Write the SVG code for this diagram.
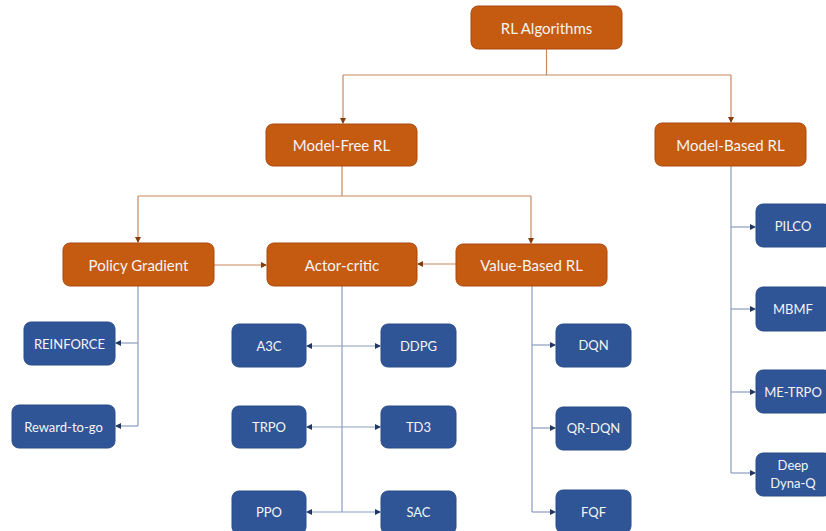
<svg xmlns="http://www.w3.org/2000/svg" width="826" height="531" viewBox="0 0 826 531">
<defs>
<marker id="ao" markerWidth="6" markerHeight="6" refX="5" refY="3" orient="auto" markerUnits="userSpaceOnUse"><path d="M0,0 L6,3 L0,6 Z" fill="#843C0C"/></marker>
<marker id="ab" markerWidth="6" markerHeight="6" refX="5" refY="3" orient="auto-start-reverse" markerUnits="userSpaceOnUse"><path d="M0,0 L6,3 L0,6 Z" fill="#203864"/></marker>
</defs>
<style>
.o rect{fill:#C55A11;stroke:#A9490C;stroke-width:1}
.b rect{fill:#2F5597;stroke:#2A4C88;stroke-width:1}
.o text{fill:#F4F4F4;font-family:Lato,"Open Sans",sans-serif;font-size:15px;text-anchor:middle;dominant-baseline:central}
.b text{fill:#F4F4F4;font-family:Lato,"Open Sans",sans-serif;font-size:13px;text-anchor:middle;dominant-baseline:central}
.co{fill:none;stroke:#C9885E;stroke-width:1.2}
.cb{fill:none;stroke:#8C9DC0;stroke-width:1.2}
</style>
<rect width="826" height="531" fill="#FFFFFF"/>
<g id="connectors">
<path class="co" d="M546.5,49 V75"/>
<path class="co" d="M343,75 H731"/>
<path class="co" d="M343,75 V123" marker-end="url(#ao)"/>
<path class="co" d="M731,75 V122" marker-end="url(#ao)"/>
<path class="co" d="M342,166 V196"/>
<path class="co" d="M138,196 H531"/>
<path class="co" d="M138,196 V242" marker-end="url(#ao)"/>
<path class="co" d="M531,196 V243" marker-end="url(#ao)"/>
<path class="co" d="M214,265 H266" marker-end="url(#ao)"/>
<path class="co" d="M456,264 H418" marker-end="url(#ao)"/>
<path class="cb" d="M138,286 V426"/>
<path class="cb" d="M138,343 H116" marker-end="url(#ab)"/>
<path class="cb" d="M138,426 H116" marker-end="url(#ab)"/>
<path class="cb" d="M342,286 V512"/>
<path class="cb" d="M307,346 H380" marker-start="url(#ab)" marker-end="url(#ab)"/>
<path class="cb" d="M307,427 H380" marker-start="url(#ab)" marker-end="url(#ab)"/>
<path class="cb" d="M307,512 H380" marker-start="url(#ab)" marker-end="url(#ab)"/>
<path class="cb" d="M532,286 V512"/>
<path class="cb" d="M532,345 H555" marker-end="url(#ab)"/>
<path class="cb" d="M532,428 H555" marker-end="url(#ab)"/>
<path class="cb" d="M532,512 H555" marker-end="url(#ab)"/>
<path class="cb" d="M731,166 V473"/>
<path class="cb" d="M731,227 H755" marker-end="url(#ab)"/>
<path class="cb" d="M731,309 H755" marker-end="url(#ab)"/>
<path class="cb" d="M731,392 H755" marker-end="url(#ab)"/>
<path class="cb" d="M731,473 H755" marker-end="url(#ab)"/>
</g>
<g id="rl-algorithms" class="o"><rect x="471" y="6" width="151" height="43" rx="7"/><text x="546.5" y="28">RL Algorithms</text></g>
<g id="model-free" class="o"><rect x="266" y="124" width="151" height="42" rx="7"/><text x="341.5" y="145">Model-Free RL</text></g>
<g id="model-based" class="o"><rect x="655" y="123" width="151" height="43" rx="7"/><text x="730.5" y="145">Model-Based RL</text></g>
<g id="policy-gradient" class="o"><rect x="63" y="243" width="151" height="43" rx="7"/><text x="138.5" y="265">Policy Gradient</text></g>
<g id="actor-critic" class="o"><rect x="267" y="243" width="150" height="43" rx="7"/><text x="342" y="265">Actor-critic</text></g>
<g id="value-based" class="o"><rect x="456" y="244" width="151" height="42" rx="7"/><text x="531.5" y="265">Value-Based RL</text></g>
<g id="reinforce" class="b"><rect x="24" y="322" width="91" height="43" rx="7"/><text x="69.5" y="344">REINFORCE</text></g>
<g id="reward-to-go" class="b"><rect x="12" y="405" width="103" height="43" rx="7"/><text x="63.5" y="427">Reward-to-go</text></g>
<g id="a3c" class="b"><rect x="232" y="324" width="74" height="43" rx="7"/><text x="269" y="346">A3C</text></g>
<g id="ddpg" class="b"><rect x="381" y="324" width="75" height="43" rx="7"/><text x="418.5" y="346">DDPG</text></g>
<g id="trpo" class="b"><rect x="232" y="406" width="74" height="42" rx="7"/><text x="269" y="427">TRPO</text></g>
<g id="td3" class="b"><rect x="381" y="406" width="75" height="42" rx="7"/><text x="418.5" y="427">TD3</text></g>
<g id="ppo" class="b"><rect x="232" y="491" width="74" height="43" rx="7"/><text x="269" y="512">PPO</text></g>
<g id="sac" class="b"><rect x="381" y="491" width="75" height="43" rx="7"/><text x="418.5" y="512">SAC</text></g>
<g id="dqn" class="b"><rect x="556" y="324" width="75" height="43" rx="7"/><text x="593.5" y="345">DQN</text></g>
<g id="qr-dqn" class="b"><rect x="556" y="407" width="75" height="43" rx="7"/><text x="593.5" y="428">QR-DQN</text></g>
<g id="fqf" class="b"><rect x="556" y="490" width="75" height="43" rx="7"/><text x="593.5" y="512">FQF</text></g>
<g id="pilco" class="b"><rect x="756" y="204" width="75" height="43" rx="7"/><text x="793" y="226">PILCO</text></g>
<g id="mbmf" class="b"><rect x="756" y="287" width="75" height="44" rx="7"/><text x="793" y="309">MBMF</text></g>
<g id="me-trpo" class="b"><rect x="756" y="370" width="75" height="43" rx="7"/><text x="793" y="392">ME-TRPO</text></g>
<g id="deep-dyna-q" class="b"><rect x="756" y="453" width="75" height="43" rx="7"/><text x="793" y="465">Deep</text><text x="793" y="483">Dyna-Q</text></g>
</svg>
